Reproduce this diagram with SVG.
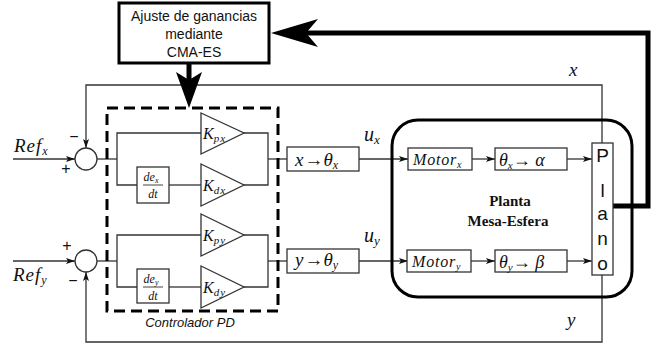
<svg xmlns="http://www.w3.org/2000/svg" width="654" height="347" viewBox="0 0 654 347">
<style>
.thin{fill:none;stroke:#333;stroke-width:1.3}
.blk{fill:#fff;stroke:#333;stroke-width:1.3}
.m{font-family:"Liberation Serif","DejaVu Serif",serif;font-style:italic;fill:#111}
.s{font-family:"Liberation Sans",Arial,sans-serif;fill:#111}
.b{font-family:"Liberation Serif","DejaVu Serif",serif;font-weight:bold;fill:#111}
</style>
<defs>
<marker id="ah" markerWidth="10" markerHeight="8" refX="9" refY="4" orient="auto" markerUnits="userSpaceOnUse">
<path d="M0,1 L9,4 L0,7 L2,4 Z" fill="#111"/>
</marker>
</defs>

<g id="connectors">
<line class="thin" x1="13" y1="159" x2="75" y2="159" marker-end="url(#ah)"/>
<line class="thin" x1="13" y1="261" x2="75" y2="261" marker-end="url(#ah)"/>
<polyline class="thin" points="602,143 602,85 86,85 86,148" marker-end="url(#ah)"/>
<polyline class="thin" points="602,275 602,342 86,342 86,272" marker-end="url(#ah)"/>
<polyline class="thin" points="97,159 117,159"/>
<polyline class="thin" points="201,133 117,133 117,185 137,185"/>
<line class="thin" x1="169" y1="185" x2="201" y2="185"/>
<polyline class="thin" points="244,133 268,133 268,185 244,185"/>
<line class="thin" x1="268" y1="159" x2="287" y2="159"/>
<polyline class="thin" points="97,261 117,261"/>
<polyline class="thin" points="201,235 117,235 117,287 137,287"/>
<line class="thin" x1="169" y1="287" x2="201" y2="287"/>
<polyline class="thin" points="244,235 268,235 268,287 244,287"/>
<line class="thin" x1="268" y1="261" x2="287" y2="261"/>
<line class="thin" x1="359" y1="159" x2="408" y2="159" marker-end="url(#ah)"/>
<line class="thin" x1="472" y1="159" x2="495" y2="159" marker-end="url(#ah)"/>
<line class="thin" x1="567" y1="159" x2="592" y2="159" marker-end="url(#ah)"/>
<line class="thin" x1="359" y1="261" x2="408" y2="261" marker-end="url(#ah)"/>
<line class="thin" x1="471" y1="261" x2="495" y2="261" marker-end="url(#ah)"/>
<line class="thin" x1="567" y1="261" x2="592" y2="261" marker-end="url(#ah)"/>
<line x1="189" y1="64" x2="189" y2="80" stroke="#000" stroke-width="5"/>
<path d="M189,108 L176,72 L189,80 L202,72 Z" fill="#000"/>
<polyline points="613,206 648,206 648,33 305,33" fill="none" stroke="#000" stroke-width="5"/>
<path d="M271,33 L318,19 L306,33 L318,47 Z" fill="#000"/>
</g>

<g id="cma">
<rect x="119" y="3" width="150" height="60" fill="#fff" stroke="#000" stroke-width="3"/>
<text class="s" font-size="14" text-anchor="middle"><tspan x="194" y="21">Ajuste de ganancias</tspan><tspan x="194" y="39">mediante</tspan><tspan x="194" y="57">CMA-ES</tspan></text>
</g>

<g id="sum_x">
<circle cx="86" cy="159" r="11" class="blk"/>
<text class="s" font-size="16" x="74" y="142" text-anchor="middle">−</text>
<text class="s" font-size="16" x="66" y="174" text-anchor="middle">+</text>
<text class="m" font-size="19" letter-spacing="1" x="14" y="152">Ref<tspan font-size="12" dy="3">x</tspan></text>
</g>
<g id="sum_y">
<circle cx="86" cy="261" r="11" class="blk"/>
<text class="s" font-size="16" x="67" y="251" text-anchor="middle">+</text>
<text class="s" font-size="16" x="73" y="286" text-anchor="middle">−</text>
<text class="m" font-size="19" letter-spacing="1" x="13" y="281">Ref<tspan font-size="12" dy="3">y</tspan></text>
</g>

<g id="pd">
<rect x="107" y="108" width="171" height="203" fill="none" stroke="#000" stroke-width="3" stroke-dasharray="11,6"/>
<text class="s" font-size="13" font-style="italic" x="190" y="327" text-anchor="middle">Controlador PD</text>
</g>

<g id="kpx">
<polygon class="blk" points="201,113 244,133 201,154"/>
<text class="m" font-size="16" x="203" y="139">K<tspan font-size="11" dy="3" letter-spacing="1">px</tspan></text>
</g>
<g id="kdx">
<polygon class="blk" points="201,164 244,185 201,206"/>
<text class="m" font-size="16" x="203" y="191">K<tspan font-size="11" dy="3" letter-spacing="1">dx</tspan></text>
</g>
<g id="dex">
<rect class="blk" x="137" y="167" width="32" height="36"/>
<text class="m" font-size="12" x="151" y="181" text-anchor="middle">de<tspan font-size="8" dy="2">x</tspan></text>
<line x1="143" y1="185" x2="163" y2="185" stroke="#111" stroke-width="0.8"/>
<text class="m" font-size="12" x="153" y="198" text-anchor="middle">dt</text>
</g>
<g id="kpy">
<polygon class="blk" points="201,214 244,235 201,256"/>
<text class="m" font-size="16" x="203" y="241">K<tspan font-size="11" dy="3" letter-spacing="1">py</tspan></text>
</g>
<g id="kdy">
<polygon class="blk" points="201,266 244,287 201,308"/>
<text class="m" font-size="16" x="203" y="293">K<tspan font-size="11" dy="3" letter-spacing="1">dy</tspan></text>
</g>
<g id="dey">
<rect class="blk" x="137" y="269" width="32" height="34"/>
<text class="m" font-size="12" x="151" y="283" text-anchor="middle">de<tspan font-size="8" dy="2">y</tspan></text>
<line x1="143" y1="287" x2="163" y2="287" stroke="#111" stroke-width="0.8"/>
<text class="m" font-size="12" x="153" y="300" text-anchor="middle">dt</text>
</g>

<g id="xtheta">
<rect class="blk" x="287" y="147" width="72" height="24"/>
<text class="m" font-size="19" x="295" y="166">x<tspan font-style="normal" dx="1">→</tspan>θ<tspan font-size="12" dy="3">x</tspan></text>
</g>
<g id="ytheta">
<rect class="blk" x="287" y="249" width="72" height="24"/>
<text class="m" font-size="19" x="295" y="266">y<tspan font-style="normal" dx="1">→</tspan>θ<tspan font-size="12" dy="3">y</tspan></text>
</g>
<text class="m" font-size="20" x="364" y="141">u<tspan font-size="13" dy="3">x</tspan></text>
<text class="m" font-size="20" x="364" y="242">u<tspan font-size="13" dy="3">y</tspan></text>
<text class="m" font-size="19" x="569" y="76">x</text>
<text class="m" font-size="19" x="567" y="326">y</text>

<g id="planta">
<rect x="392" y="120" width="240" height="177" rx="26" ry="26" fill="none" stroke="#000" stroke-width="3"/>
<text class="b" font-size="15" text-anchor="middle"><tspan x="510" y="206">Planta</tspan><tspan x="508" y="226">Mesa-Esfera</tspan></text>
</g>
<g id="motorx">
<rect class="blk" x="408" y="148" width="64" height="22"/>
<text class="m" font-size="16" letter-spacing="0.8" x="413" y="165">Motor<tspan font-size="10" dy="3">x</tspan></text>
</g>
<g id="alpha">
<rect class="blk" x="495" y="148" width="72" height="22"/>
<text class="m" font-size="18" x="499" y="166">θ<tspan font-size="11" dy="3">x</tspan><tspan font-style="normal" dy="-3">→</tspan> α</text>
</g>
<g id="motory">
<rect class="blk" x="407" y="250" width="64" height="22"/>
<text class="m" font-size="16" letter-spacing="0.8" x="412" y="267">Motor<tspan font-size="10" dy="3">y</tspan></text>
</g>
<g id="beta">
<rect class="blk" x="495" y="250" width="72" height="22"/>
<text class="m" font-size="18" x="499" y="268">θ<tspan font-size="11" dy="3">y</tspan><tspan font-style="normal" dy="-3">→</tspan> β</text>
</g>
<g id="plano">
<rect class="blk" x="592" y="143" width="21" height="132"/>
<text class="s" font-size="19" text-anchor="middle"><tspan x="602.5" y="162">P</tspan><tspan x="602.5" y="197">l</tspan><tspan x="602.5" y="220">a</tspan><tspan x="602.5" y="245">n</tspan><tspan x="602.5" y="270">o</tspan></text>
</g>
</svg>
